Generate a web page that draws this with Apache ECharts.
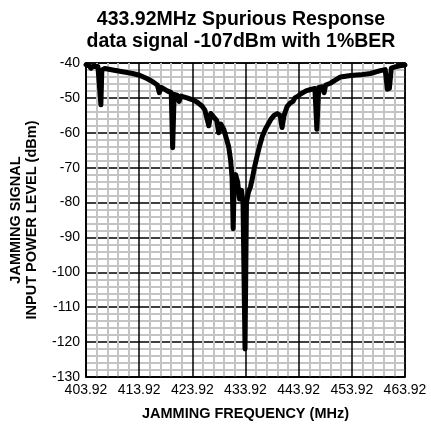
<!DOCTYPE html>
<html>
<head>
<meta charset="utf-8">
<script src="https://cdn.jsdelivr.net/npm/echarts@6/dist/echarts.min.js"></script>
<style>
  html, body { margin: 0; padding: 0; background: #fff; }
  #chart { width: 431px; height: 430px; }
</style>
</head>
<body>
<div id="chart"></div>
<script>
// jamming frequency (MHz) and input power level (dBm)
const freqMHz = [
  403.92, 404.48, 404.85, 405.22, 406.16, 406.53, 406.72, 406.90, 407.46, 408.95,
  410.81, 412.68, 413.98, 415.47, 416.40, 417.34, 417.71, 418.08, 419.20, 419.95,
  420.22, 420.50, 421.06, 421.43, 421.80, 422.92, 423.86, 424.79, 425.72, 426.28,
  426.65, 427.02, 427.40, 427.96, 428.52, 428.89, 429.27, 429.83, 430.39, 430.76,
  431.13, 431.40, 431.60, 431.80, 432.06, 432.43, 432.80, 433.18, 433.45, 433.83,
  434.10, 434.48, 434.85, 435.22, 435.60, 435.97, 436.53, 437.09, 437.65, 438.20,
  438.76, 439.30, 439.88, 440.44, 440.80, 441.18, 441.74, 442.30, 442.86, 443.20,
  443.80, 444.35, 445.30, 446.20, 446.97, 447.34, 447.70, 448.30, 448.70, 449.00,
  449.90, 451.80, 453.70, 455.50, 457.40, 459.30, 460.20, 460.60, 460.98, 461.35,
  462.10, 463.00, 463.92
];
const powerDbm = [
  -40.5, -40.8, -41.5, -40.9, -41.0, -41.5, -52.0, -42.0, -41.6, -42.0,
  -42.5, -43.0, -43.5, -44.5, -45.3, -46.3, -48.5, -47.0, -48.0, -48.5,
  -64.3, -49.0, -49.2, -51.0, -49.5, -50.0, -50.5, -51.2, -52.3, -53.5,
  -54.0, -58.0, -54.5, -55.5, -56.5, -60.0, -57.5, -59.0, -62.0, -64.0,
  -68.0, -73.0, -87.5, -74.0, -72.0, -74.0, -79.0, -76.5, -80.0, -122.0,
  -80.0, -77.0, -75.5, -73.0, -70.0, -67.5, -64.0, -61.0, -59.0, -57.5,
  -56.0, -55.0, -54.5, -55.0, -58.5, -55.0, -52.5, -51.5, -51.0, -50.0,
  -49.5, -48.8, -48.0, -47.6, -47.3, -59.0, -47.0, -46.8, -48.5, -46.3,
  -45.8, -44.0, -43.6, -43.4, -43.0, -42.2, -41.9, -47.5, -47.3, -41.5,
  -41.1, -40.8, -40.6
];
const titleLines = ['433.92MHz Spurious Response', 'data signal -107dBm with 1%BER'];

const font = 'Liberation Sans, Arial, Helvetica, sans-serif';
const chart = echarts.init(document.getElementById('chart'));

chart.setOption({
  animation: false,
  backgroundColor: '#fff',
  title: {
    text: titleLines.join('\n'),
    left: 236,
    top: 4,
    textAlign: 'center',
    textStyle: { fontFamily: font, fontSize: 19.5, fontWeight: 'bold', color: '#000', lineHeight: 22 }
  },
  grid: { left: 83, right: 26, top: 63, bottom: 53, show: true, borderColor: '#000', borderWidth: 1.5 },
  xAxis: {
    type: 'value',
    min: 403.92,
    max: 463.92,
    interval: 10,
    name: 'JAMMING FREQUENCY (MHz)',
    nameLocation: 'middle',
    nameGap: 29,
    nameTextStyle: { fontFamily: font, fontSize: 14.5, fontWeight: 'bold', color: '#000' },
    axisLine: { lineStyle: { color: '#000', width: 1.5 } },
    axisTick: { show: false },
    axisLabel: {
      fontFamily: font, fontSize: 14, color: '#000', margin: 6,
      formatter: v => v.toFixed(2)
    },
    splitLine: { lineStyle: { color: '#000', width: 1.5 } },
    minorTick: { show: false, splitNumber: 5 },
    minorSplitLine: { show: true, lineStyle: { color: '#c4c4c4', width: 2 } }
  },
  yAxis: {
    type: 'value',
    min: -130,
    max: -40,
    interval: 10,
    name: 'JAMMING SIGNAL\nINPUT POWER LEVEL (dBm)',
    nameLocation: 'middle',
    nameRotate: 90,
    nameGap: 46,
    nameTextStyle: { fontFamily: font, fontSize: 14.5, fontWeight: 'bold', color: '#000', lineHeight: 16 },
    axisLine: { lineStyle: { color: '#000', width: 1.5 } },
    axisTick: { show: false },
    axisLabel: { fontFamily: font, fontSize: 14, color: '#000', margin: 6 },
    splitLine: { lineStyle: { color: '#000', width: 1.5 } },
    minorTick: { show: false, splitNumber: 5 },
    minorSplitLine: { show: true, lineStyle: { color: '#c4c4c4', width: 2 } }
  },
  series: [{
    type: 'line',
    symbol: 'none',
    z: 5,
    lineStyle: { color: '#000', width: 5, join: 'round', cap: 'round' },
    data: freqMHz.map((f, i) => [f, powerDbm[i]])
  }]
});
</script>
</body>
</html>
